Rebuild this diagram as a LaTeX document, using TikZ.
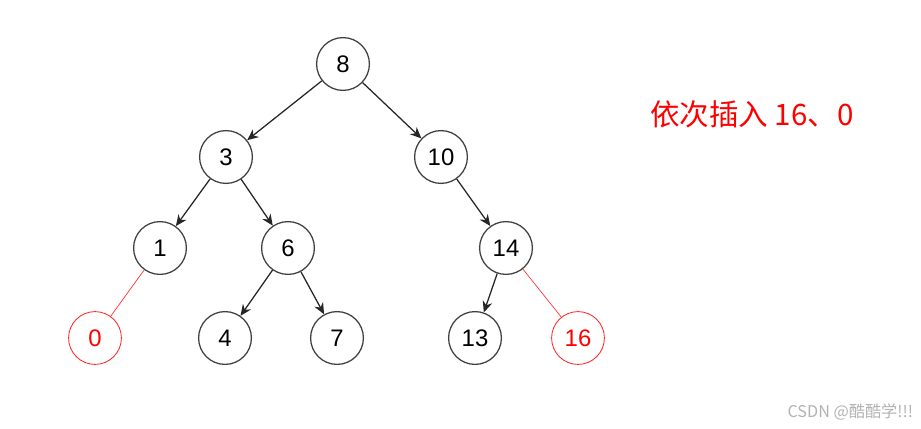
\documentclass[tikz,border=0pt]{standalone}
\usepackage{fontspec}
\setmainfont{Liberation Sans}
\newfontfamily\cjk{Noto Sans CJK SC}
\usetikzlibrary{arrows.meta}

\begin{document}
\begin{tikzpicture}[x=0.025cm,y=-0.025cm,
  knot/.style={circle,draw=black!75,line width=0.9pt,minimum size=1.32cm,inner sep=0pt,font=\fontsize{17}{18}\selectfont},
  newknot/.style={knot,draw=red!85,text=red,line width=0.6pt},
  edge/.style={-{Stealth[length=8pt,width=7pt]},line width=0.9pt,black!85},
  newedge/.style={red!80,line width=0.5pt}]
\useasboundingbox (0,0) rectangle (921,428);

% tree nodes
\node[knot] (n8) at (343,64) {8};
\node[knot] (n3) at (226,157) {3};
\node[knot] (n10) at (441,157) {10};
\node[knot] (n1) at (160,248) {1};
\node[knot] (n6) at (288,248) {6};
\node[knot] (n14) at (506,248) {14};
\node[knot] (n4) at (225,338) {4};
\node[knot] (n7) at (337,338) {7};
\node[knot] (n13) at (475,338) {13};

% inserted nodes
\node[newknot] (n0) at (95,338) {0};
\node[newknot] (n16) at (578,338) {16};

% edges
\foreach \a/\b in {n8/n3,n8/n10,n3/n1,n3/n6,n10/n14,n6/n4,n6/n7,n14/n13}
  \draw[edge] (\a) -- (\b);
\draw[newedge] (n1) -- (n0);
\draw[newedge] (n14) -- (n16);

% Labels
\node[text=red,font=\cjk\fontsize{21}{23}\selectfont] (note) at (752,114) {依次插入 16、0};
\node[text=black!30,font=\cjk\fontsize{11.5}{13}\selectfont,anchor=east] (mark) at (918,412) {CSDN @酷酷学!!!};
\end{tikzpicture}
\end{document}
